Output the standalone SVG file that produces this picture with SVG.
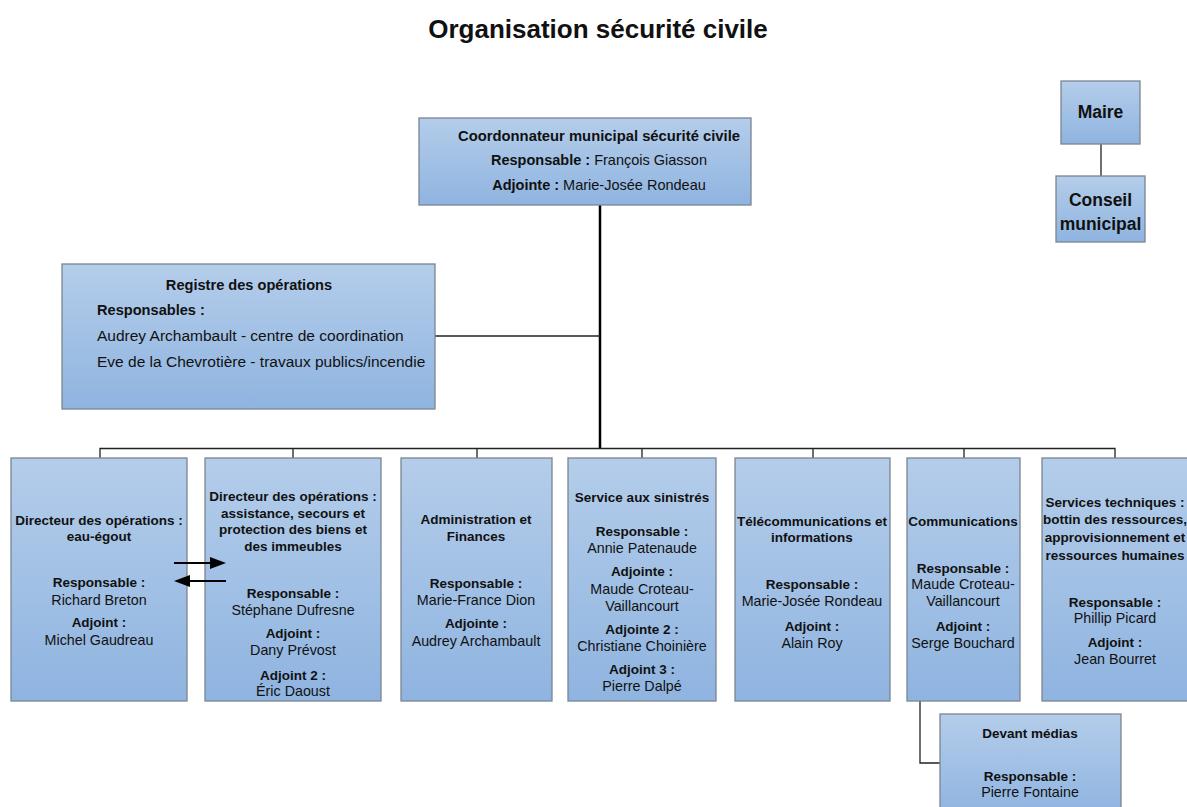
<svg xmlns="http://www.w3.org/2000/svg" width="1187" height="807" viewBox="0 0 1187 807">
<defs>
<linearGradient id="g" x1="0" y1="0" x2="0" y2="1">
<stop offset="0" stop-color="#b4cdea"/>
<stop offset="1" stop-color="#8fb4e0"/>
</linearGradient>
</defs>
<style>
.box{fill:url(#g);stroke:#7a8591;stroke-width:1.3}
text{font-family:"Liberation Sans",Arial,sans-serif;font-size:14.3px;fill:#111;text-anchor:middle}
.b{font-weight:bold;font-size:13.5px}
.t{font-size:26px;font-weight:bold}
.c1{font-size:14.8px;font-weight:bold}
.c2{font-size:14.5px}
.c2 .b{font-size:14.5px}
.r{font-size:15.5px}
.rb{font-size:14.6px;font-weight:bold}
.mb{font-size:17.5px;font-weight:bold}
.l{text-anchor:start}
.ln{fill:none;stroke:#222;stroke-width:1.3}
.lk{fill:none;stroke:#000;stroke-width:2.5}
</style>
<rect width="1187" height="807" fill="#fff"/>
<text class="t" x="598" y="38">Organisation sécurité civile</text>

<g id="connectors">
<line class="lk" x1="600" y1="205" x2="600" y2="449"/>
<line class="ln" x1="435" y1="336" x2="600" y2="336"/>
<polyline class="ln" points="100,458 100,448.5 1115,448.5 1115,458"/>
<line class="ln" x1="293" y1="448" x2="293" y2="458"/>
<line class="ln" x1="477" y1="448" x2="477" y2="458"/>
<line class="ln" x1="642" y1="448" x2="642" y2="458"/>
<line class="ln" x1="813" y1="448" x2="813" y2="458"/>
<line class="ln" x1="964" y1="448" x2="964" y2="458"/>
<line class="ln" x1="1101" y1="144" x2="1101" y2="176"/>
<polyline class="ln" points="920,701 920,763 940,763"/>
</g>

<g id="coord">
<rect class="box" x="419" y="118" width="332" height="87"/>
<text class="c1" x="599" y="141">Coordonnateur municipal sécurité civile</text>
<text class="c2" x="599" y="165"><tspan class="b">Responsable :</tspan> François Giasson</text>
<text class="c2" x="599" y="190"><tspan class="b">Adjointe :</tspan> Marie-Josée Rondeau</text>
</g>

<g id="maire">
<rect class="box" x="1061" y="81" width="79" height="63"/>
<text class="mb" x="1100.5" y="118">Maire</text>
</g>
<g id="conseil">
<rect class="box" x="1056" y="176" width="89" height="66"/>
<text class="mb" x="1100.5" y="206">Conseil</text>
<text class="mb" x="1100.5" y="230">municipal</text>
</g>

<g id="registre">
<rect class="box" x="62" y="264" width="373" height="145"/>
<text class="rb" x="249" y="290">Registre des opérations</text>
<text class="rb l" x="97" y="315">Responsables :</text>
<text class="r l" x="97" y="341">Audrey Archambault - centre de coordination</text>
<text class="r l" x="97" y="367">Eve de la Chevrotière - travaux publics/incendie</text>
</g>

<g id="eau">
<rect class="box" x="11" y="458" width="176" height="243"/>
<text class="b" x="99" y="525">Directeur des opérations :</text>
<text class="b" x="99" y="541">eau-égout</text>
<text class="b" x="99" y="587">Responsable :</text>
<text x="99" y="605">Richard Breton</text>
<text class="b" x="99" y="627">Adjoint :</text>
<text x="99" y="645">Michel Gaudreau</text>
</g>

<g id="assist">
<rect class="box" x="205" y="458" width="176" height="243"/>
<text class="b" x="293" y="501">Directeur des opérations :</text>
<text class="b" x="293" y="518">assistance, secours et</text>
<text class="b" x="293" y="534">protection des biens et</text>
<text class="b" x="293" y="551">des immeubles</text>
<text class="b" x="293" y="598">Responsable :</text>
<text x="293" y="615">Stéphane Dufresne</text>
<text class="b" x="293" y="638">Adjoint :</text>
<text x="293" y="655">Dany Prévost</text>
<text class="b" x="293" y="680">Adjoint 2 :</text>
<text x="293" y="696">Éric Daoust</text>
</g>

<g id="admin">
<rect class="box" x="401" y="458" width="151" height="243"/>
<text class="b" x="476" y="524">Administration et</text>
<text class="b" x="476" y="541">Finances</text>
<text class="b" x="476" y="588">Responsable :</text>
<text x="476" y="605">Marie-France Dion</text>
<text class="b" x="476" y="628">Adjointe :</text>
<text x="476" y="646">Audrey Archambault</text>
</g>

<g id="sinistres">
<rect class="box" x="568" y="458" width="148" height="243"/>
<text class="b" x="642" y="502">Service aux sinistrés</text>
<text class="b" x="642" y="536">Responsable :</text>
<text x="642" y="553">Annie Patenaude</text>
<text class="b" x="642" y="576">Adjointe :</text>
<text x="642" y="594">Maude Croteau-</text>
<text x="642" y="611">Vaillancourt</text>
<text class="b" x="642" y="634">Adjointe 2 :</text>
<text x="642" y="651">Christiane Choinière</text>
<text class="b" x="642" y="674">Adjoint 3 :</text>
<text x="642" y="691">Pierre Dalpé</text>
</g>

<g id="telecom">
<rect class="box" x="735" y="458" width="155" height="243"/>
<text class="b" x="812" y="526">Télécommunications et</text>
<text class="b" x="812" y="542">informations</text>
<text class="b" x="812" y="589">Responsable :</text>
<text x="812" y="606">Marie-Josée Rondeau</text>
<text class="b" x="812" y="631">Adjoint :</text>
<text x="812" y="648">Alain Roy</text>
</g>

<g id="communications">
<rect class="box" x="907" y="458" width="113" height="243"/>
<text class="b" x="963" y="526">Communications</text>
<text class="b" x="963" y="573">Responsable :</text>
<text x="963" y="589">Maude Croteau-</text>
<text x="963" y="606">Vaillancourt</text>
<text class="b" x="963" y="631">Adjoint :</text>
<text x="963" y="648">Serge Bouchard</text>
</g>

<g id="techniques">
<rect class="box" x="1042" y="458" width="146" height="243"/>
<text class="b" x="1115" y="507">Services techniques :</text>
<text class="b" x="1115" y="524">bottin des ressources,</text>
<text class="b" x="1115" y="542">approvisionnement et</text>
<text class="b" x="1115" y="560">ressources humaines</text>
<text class="b" x="1115" y="607">Responsable :</text>
<text x="1115" y="623">Phillip Picard</text>
<text class="b" x="1115" y="647">Adjoint :</text>
<text x="1115" y="664">Jean Bourret</text>
</g>

<g id="medias">
<rect class="box" x="940" y="714" width="181" height="100"/>
<text class="b" x="1030" y="738">Devant médias</text>
<text class="b" x="1030" y="781">Responsable :</text>
<text x="1030" y="797">Pierre Fontaine</text>
</g>

<g id="arrows">
<line stroke="#000" stroke-width="2" x1="174" y1="563" x2="212" y2="563"/>
<polygon points="226,563 210,557 210,569" fill="#000"/>
<line stroke="#000" stroke-width="2" x1="226" y1="581" x2="188" y2="581"/>
<polygon points="174,581 190,575 190,587" fill="#000"/>
</g>
</svg>
